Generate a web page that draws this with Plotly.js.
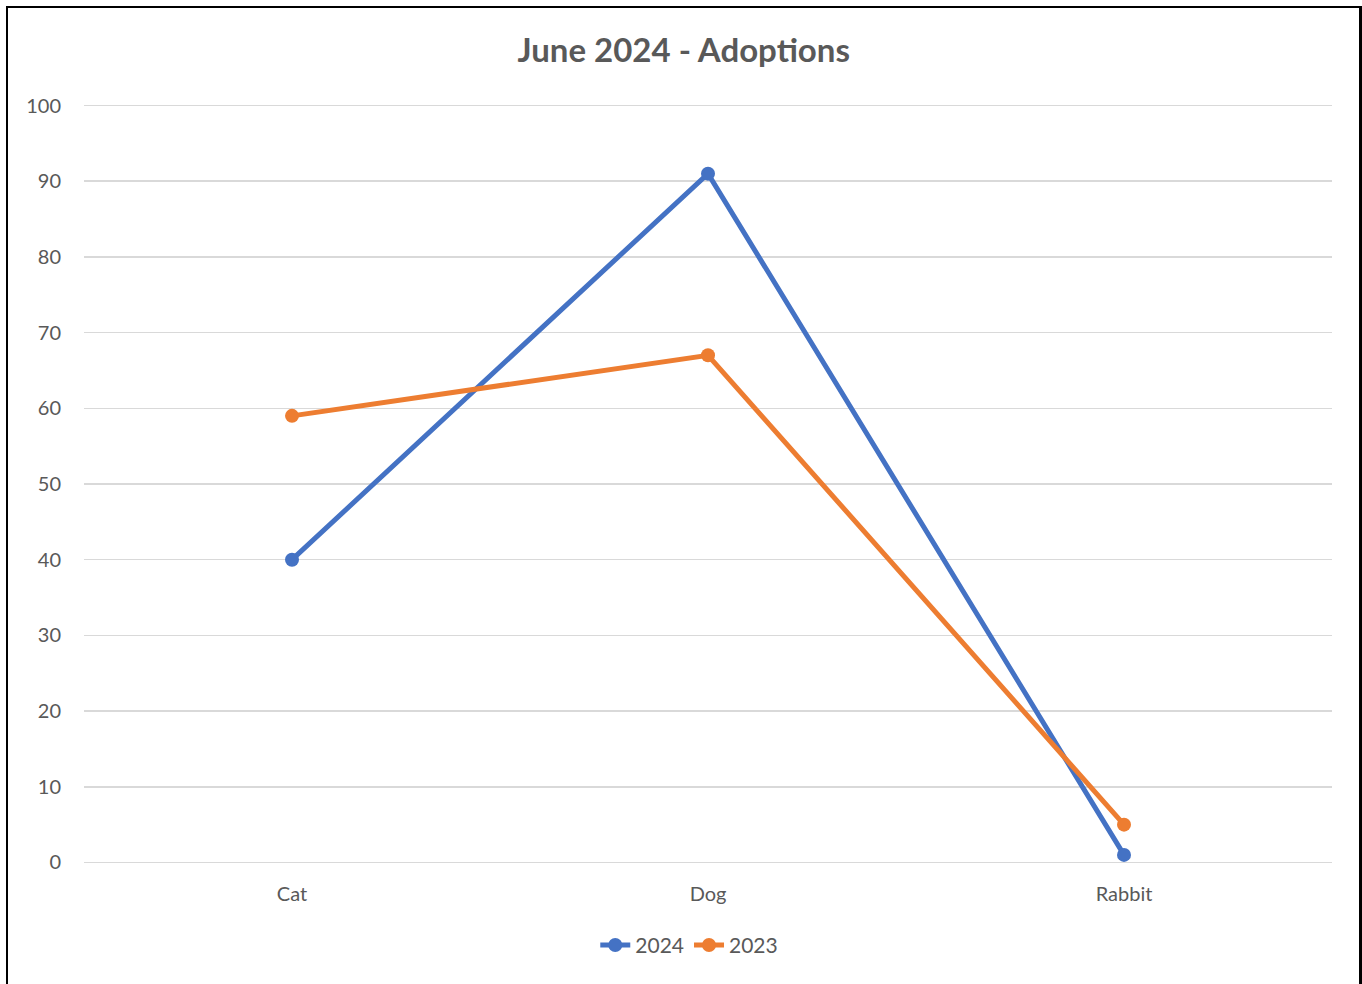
<!DOCTYPE html>
<html>
<head>
<meta charset="utf-8">
<script src="https://cdn.plot.ly/plotly-3.0.1.min.js"></script>
<style>
html,body{margin:0;padding:0;background:#fff;overflow:hidden;}
#frame{position:absolute;left:6px;top:6px;width:1356px;height:990px;border:2px solid #000;border-right-width:3px;box-sizing:border-box;}
#chart{position:absolute;left:0;top:0;width:1362px;height:984px;}
</style>
</head>
<body>
<div id="chart"></div>
<div id="frame" style="pointer-events:none;"></div>
<script>
const categories = ["Cat", "Dog", "Rabbit"];
const values2024 = [40, 91, 1];
const values2023 = [59, 67, 5];
const yTicks = [0, 10, 20, 30, 40, 50, 60, 70, 80, 90, 100];

const fontFam = "Lato, 'Open Sans', sans-serif";
const traces = [
  {x: categories, y: values2024, name: "2024", type: "scatter", mode: "lines+markers",
   line: {color: "#4472C4", width: 5}, marker: {color: "#4472C4", size: 14}},
  {x: categories, y: values2023, name: "2023", type: "scatter", mode: "lines+markers",
   line: {color: "#ED7D31", width: 5}, marker: {color: "#ED7D31", size: 14}}
];
const layout = {
  width: 1362, height: 984,
  margin: {l: 84, r: 30, t: 103.5, b: 119.5},
  paper_bgcolor: "#fff", plot_bgcolor: "#fff",
  font: {family: fontFam, color: "#595959", size: 20},
  title: {text: "<b>June 2024 - Adoptions</b>", x: 0.502, xanchor: "center", y: 0.949, yanchor: "middle",
          font: {family: fontFam, size: 33, color: "#595959"}},
  xaxis: {type: "category", range: [-0.5, 2.5], showgrid: false, zeroline: false, showline: false,
          ticks: "outside", ticklen: 12, tickcolor: "rgba(0,0,0,0)", tickfont: {size: 20, color: "#595959"}},
  yaxis: {range: [-0.2, 100.2], tickvals: yTicks, showgrid: true, gridcolor: "#D9D9D9", gridwidth: 1.5,
          zeroline: false, showline: false, ticks: "outside", ticklen: 18, tickcolor: "rgba(0,0,0,0)",
          tickfont: {size: 20, color: "#595959"}},
  showlegend: true,
  legend: {orientation: "h", x: 0.485, xanchor: "center", y: -0.08, yanchor: "top",
           font: {size: 21, color: "#595959"}, itemwidth: 30, tracegroupgap: 0}
};
Plotly.newPlot("chart", traces, layout, {displayModeBar: false, staticPlot: true});
</script>
</body>
</html>
